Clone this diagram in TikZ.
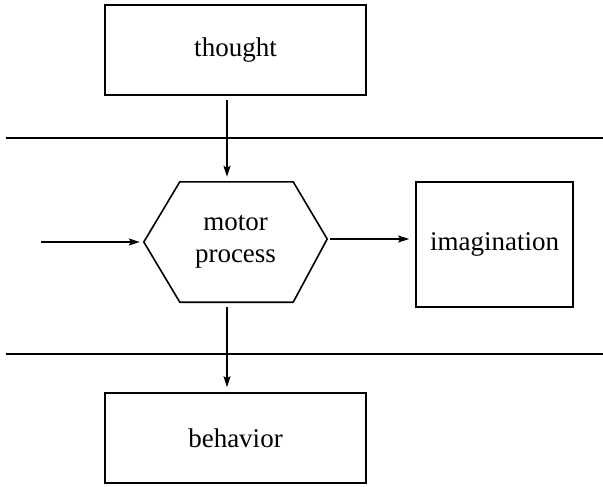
\documentclass[tikz,border=0pt]{standalone}
\usepackage{fontspec}
\setmainfont{Liberation Serif}
\usetikzlibrary{arrows.meta,calc}
\tikzset{
  box/.style={draw,line width=1.6pt,minimum width=261pt,minimum height=90pt,inner sep=0pt},
  arr/.style={-{Stealth[length=11pt,width=7pt,inset=2pt]},line width=1.4pt},
}
\begin{document}
\begin{tikzpicture}[x=1pt,y=-1pt,font=\fontsize{27}{32}\selectfont]
        \useasboundingbox (0,0) rectangle (603,487);
        \path (235.5,50) node[box](thought){thought};
        \path (235.5,242) node[minimum width=183pt,minimum height=120pt,inner sep=0pt,align=center](motor){motor\\process};
        \draw[line width=1.6pt] (motor.west) -- ($(motor.north west)+(36,0)$) -- ($(motor.north east)+(-34,0)$) -- ($(motor.east)+(0,-3)$)
            -- ($(motor.south east)+(-34,0)$) -- ($(motor.south west)+(36,0)$) -- cycle;
        \path (494.5,244.5) node[box,minimum width=157pt,minimum height=125pt](imagination){imagination};
        \path (235.5,438) node[box](behavior){behavior};
        \coordinate (input) at (41,242);
        \coordinate (tip) at ($(motor.east)+(0,-3)$);
        \draw[line width=1.5pt] (6,138) -- (603,138);
        \draw[line width=1.5pt] (6,354) -- (603,354);
        \draw[arr,shorten <=4pt,shorten >=5pt] ([xshift=-8.5pt]thought.south) -- ([xshift=-8.5pt]motor.north);
        \draw[arr,shorten >=4pt] (input) -- (motor.west);
        \draw[arr,shorten <=3pt,shorten >=6pt] (tip) -- (tip -| imagination.west);
        \draw[arr,shorten <=5pt,shorten >=5pt] ([xshift=-8.5pt]motor.south) -- ([xshift=-8.5pt]behavior.north);


    \end{tikzpicture}
\end{document}
